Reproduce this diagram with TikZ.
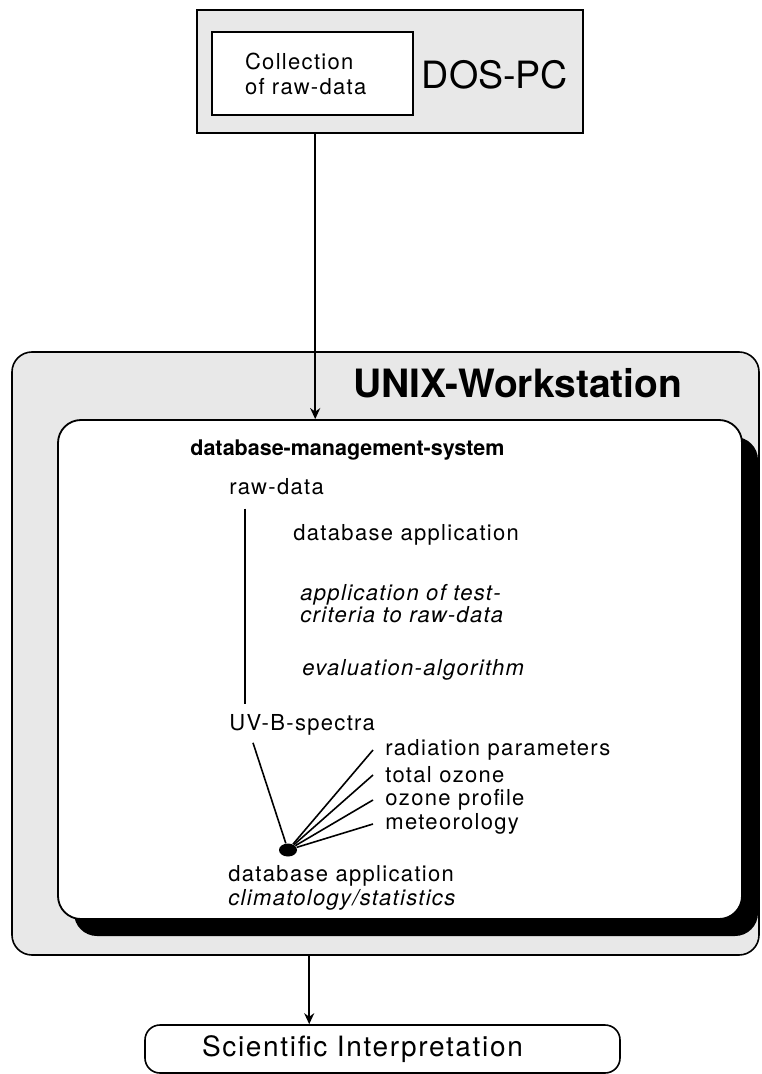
\documentclass[tikz,border=0pt]{standalone}
\usepackage{fontspec}
\setmainfont{TeX Gyre Heros}
\newfontfamily\spaced{TeX Gyre Heros}[LetterSpace=6]
\usetikzlibrary{arrows.meta,shapes.geometric,shadows}

\begin{document}
\begin{tikzpicture}[x=0.5pt, y=-0.5pt,
  txt/.style={anchor=west, inner sep=0pt, font=\spaced\fontsize{11}{12}\selectfont},
  itxt/.style={txt, align=left, font=\spaced\fontsize{11}{11}\selectfont\itshape},
  fanlabel/.style={txt, inner xsep=6pt},
  ground/.style={rectangle, draw=black, fill=gray!18, line width=0.8pt},
  link/.style={line width=0.8pt},
  arrow/.style={-{Stealth[length=5.5pt,width=5pt]}, line width=1.2pt}]
\useasboundingbox (0,0) rectangle (761,1074);

% DOS-PC
\node (dospc) [ground, minimum width=193pt, minimum height=61.5pt] at (390,71.5) {};
\node (collect) [rectangle, draw=black, fill=white, line width=1.1pt, minimum width=100.5pt, minimum height=41.5pt, inner xsep=16.5pt, text width=67.5pt, align=left, font=\spaced\fontsize{11}{12.5}\selectfont] at (312.5,73.5) {Collection\\of raw-data};
\node (doslabel) [inner sep=0pt, font=\fontsize{18.8}{20}\selectfont] at (495,75) {DOS-PC};

% UNIX-Workstation
\node (unix) [ground, rounded corners=10pt, minimum width=373.5pt, minimum height=301.5pt] at (385.5,653.5) {};
\node (unixlabel) [inner sep=0pt, font=\bfseries\fontsize{19.5}{21}\selectfont] at (518,383) {UNIX-Workstation};
\node (dbms) [rectangle, rounded corners=11.5pt, draw=black, fill=white, line width=0.9pt, minimum width=342pt, minimum height=249.5pt, drop shadow={shadow xshift=8pt, shadow yshift=-8.5pt, fill=black, opacity=1}] at (400,669.5) {};

\node (dbmslabel) [txt, font=\bfseries\fontsize{10.75}{12}\selectfont] at (190,450) {database-management-system};
\node (rawdata) [txt] at (229,487) {raw-data};
\node (evalapp) [txt] at (293,535) {database application};
\node (testcrit) [itxt] at (300,604) {application of test-\\criteria to raw-data};
\node (evalalg) [itxt] at (302,670) {evaluation-algorithm};
\node (uvb) [txt] at (229,725) {UV-B-spectra};
\node (rad) [fanlabel] at (373,750) {radiation parameters};
\node (ozone) [fanlabel] at (373,775) {total ozone};
\node (profile) [fanlabel] at (373,800) {ozone profile};
\node (meteo) [fanlabel] at (373,824) {meteorology};
\node (dot) [ellipse, fill=black, inner sep=0pt, minimum width=9pt, minimum height=6.5pt] at (288,850) {};
\node (climapp) [txt, align=left] at (228,887.5) {database application\\\textit{climatology/statistics}};

% result
\node (sci) [rectangle, rounded corners=7.5pt, draw=black, line width=0.8pt, minimum height=24pt, inner xsep=28.5pt, text width=180.5pt, align=left, font=\spaced\fontsize{14}{16}\selectfont] at (382.5,1049) {Scientific Interpretation};

\coordinate (dosout) at ([xshift=59.5pt]dospc.south west);
\draw[arrow] (dosout) -- (dosout |- dbms.north);
\draw[link] ([xshift=8pt,yshift=-6.5pt]rawdata.south west) -- ([xshift=8pt,yshift=5pt]uvb.north west);
\draw[link] ([xshift=12pt,yshift=-3.5pt]uvb.south west) -- (dot);
\foreach \lbl in {rad,ozone,profile,meteo}
  \draw[link] (dot) -- (\lbl.west);
\coordinate (unixout) at ([xshift=149pt]unix.south west);
\draw[arrow] (unixout) -- (unixout |- sci.north);
\end{tikzpicture}
\end{document}
